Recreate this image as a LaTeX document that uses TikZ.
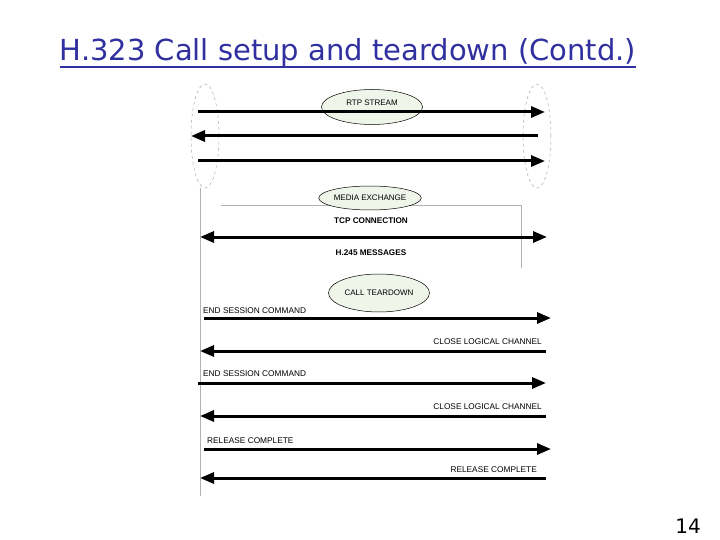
\documentclass[tikz,border=0pt]{standalone}
\usepackage{fontspec}
\setmainfont{Liberation Sans}
\newfontfamily\titlefont{DejaVu Sans}
\usetikzlibrary{arrows.meta,shapes.geometric}
\definecolor{titleblue}{RGB}{48,48,160}
\definecolor{ovalfill}{RGB}{240,245,234}
\begin{document}
\begin{tikzpicture}[x=1pt,y=-1pt,
  msg/.style={line width=3pt,-{Triangle[length=14pt,width=11pt]}},
  msgboth/.style={line width=3pt,{Triangle[length=14pt,width=11pt]}-{Triangle[length=14pt,width=11pt]}},
  phase/.style={ellipse,draw=black,line width=0.5pt,fill=ovalfill,minimum width=101pt,inner sep=0pt,font=\fontsize{8}{9}\selectfont},
  lbl/.style={inner sep=0pt,font=\fontsize{8.3}{9}\selectfont},
  blbl/.style={inner sep=0pt,font=\fontsize{8.2}{9}\selectfont\bfseries},
  thin/.style={draw=black!30,line width=0.6pt},
  endpt/.style={ellipse,draw=black!35,dashed,line width=0.5pt,minimum width=28pt,minimum height=104pt,inner sep=0pt}]
\useasboundingbox (0,0) rectangle (720,540);
% title
\node[anchor=base,inner sep=0pt,text=titleblue,font=\titlefont\fontsize{29}{34}\selectfont] (title) at (348,61) {H.323 Call setup and teardown (Contd.)};
\draw[titleblue,line width=1.4pt] ([yshift=-6pt]title.base west) -- ([yshift=-6pt]title.base east);
\node[anchor=base east,inner sep=0pt,font=\titlefont\fontsize{20}{24}\selectfont] (pnum) at (701,533) {14};
% endpoints
\node[endpt] (leftend) at (205,136) {};
\node[endpt] (rightend) at (537,136) {};
\coordinate (lineTop) at (200,188);
\coordinate (lineBot) at (200,496);
\draw[thin] (lineTop) -- (lineBot);
\coordinate (boxA) at (221,205);
\coordinate (boxB) at (521,205);
\coordinate (boxC) at (521,268);
\draw[thin] (boxA) -- (boxB) -- (boxC);
% phases
\node[phase,minimum height=35pt] (rtp) at (372,107) {\raisebox{8pt}{RTP STREAM}};
\node[phase,minimum height=24pt] (media) at (370,198) {MEDIA EXCHANGE};
\node[phase,minimum height=38pt] (teardown) at (379,293) {CALL TEARDOWN};
% RTP arrows
\coordinate (r1a) at (198,112); \coordinate (r1b) at (545,112);
\coordinate (r2a) at (538,136); \coordinate (r2b) at (191,136);
\coordinate (r3a) at (198,161); \coordinate (r3b) at (545,161);
\draw[msg] (r1a) -- (r1b);
\draw[msg] (r2a) -- (r2b);
\draw[msg] (r3a) -- (r3b);
% H.245
\node[blbl] (tcp) at (371,221) {TCP CONNECTION};
\coordinate (h1a) at (200,237); \coordinate (h1b) at (547,237);
\draw[msgboth] (h1a) -- (h1b);
\node[blbl] (h245) at (371,253) {H.245 MESSAGES};
% teardown messages
\node[lbl,anchor=west] (t1) at (203,311) {END SESSION COMMAND};
\coordinate (m1a) at (204,318); \coordinate (m1b) at (551,318);
\draw[msg] (m1a) -- (m1b);
\node[lbl,anchor=east] (t2) at (542,342) {CLOSE LOGICAL CHANNEL};
\coordinate (m2a) at (546,351); \coordinate (m2b) at (200,351);
\draw[msg] (m2a) -- (m2b);
\node[lbl,anchor=west] (t3) at (203,374) {END SESSION COMMAND};
\coordinate (m3a) at (198,383); \coordinate (m3b) at (546,383);
\draw[msg] (m3a) -- (m3b);
\node[lbl,anchor=east] (t4) at (542,407) {CLOSE LOGICAL CHANNEL};
\coordinate (m4a) at (546,416); \coordinate (m4b) at (200,416);
\draw[msg] (m4a) -- (m4b);
\node[lbl,anchor=west] (t5) at (207,441) {RELEASE COMPLETE};
\coordinate (m5a) at (204,449); \coordinate (m5b) at (551,449);
\draw[msg] (m5a) -- (m5b);
\node[lbl,anchor=east] (t6) at (537,470) {RELEASE COMPLETE};
\coordinate (m6a) at (546,478); \coordinate (m6b) at (200,478);
\draw[msg] (m6a) -- (m6b);
\end{tikzpicture}
\end{document}
